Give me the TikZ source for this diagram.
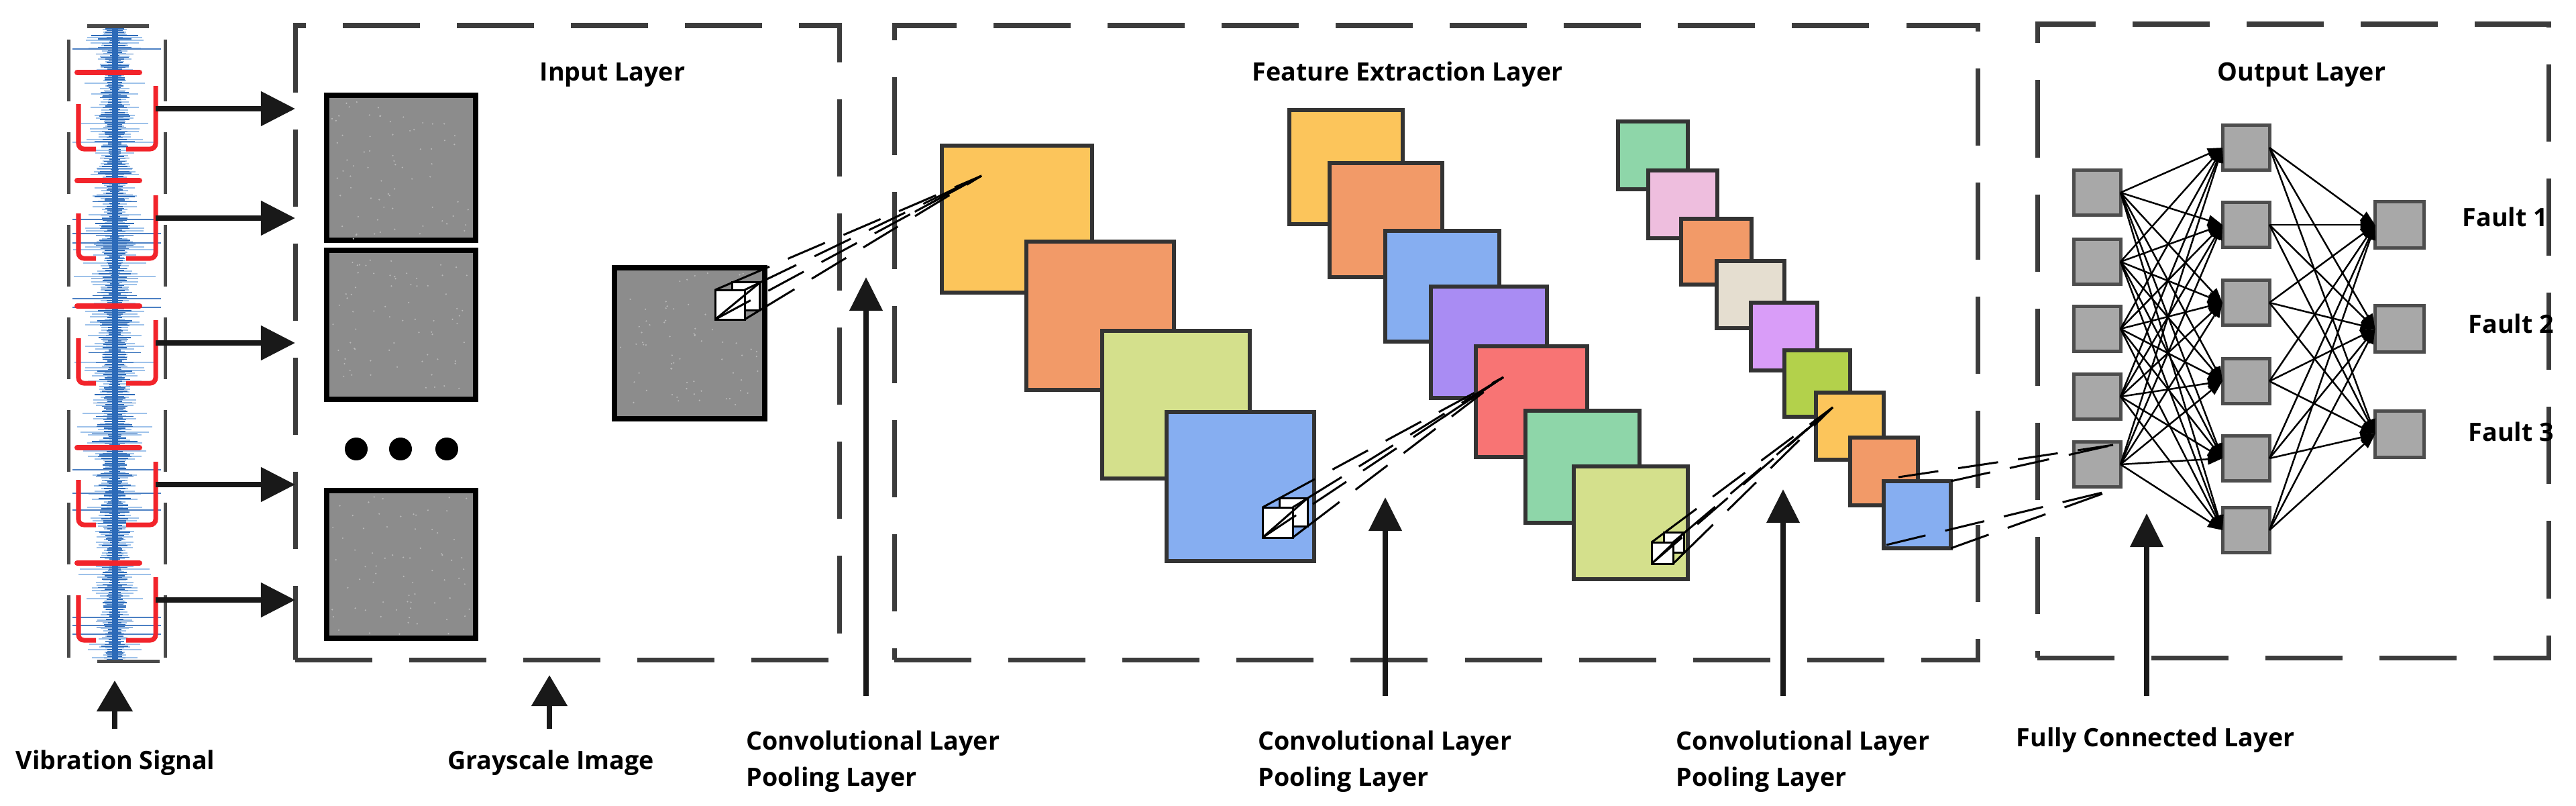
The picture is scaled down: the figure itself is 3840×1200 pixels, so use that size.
\documentclass[tikz,border=0pt]{standalone}
\usepackage{fontspec}
\setmainfont{Open Sans}
\usetikzlibrary{arrows.meta,calc,fit}
\definecolor{boxgray}{HTML}{3C3C3C}
\definecolor{sqborder}{HTML}{333333}
\definecolor{sqYellow}{HTML}{FCC55B}
\definecolor{sqOrange}{HTML}{F29A68}
\definecolor{sqLime}{HTML}{D4E08C}
\definecolor{sqBlue}{HTML}{86AEF1}
\definecolor{sqPurple}{HTML}{A98CF3}
\definecolor{sqRed}{HTML}{F87474}
\definecolor{sqGreen}{HTML}{8ED6A9}
\definecolor{sqPink}{HTML}{EEBEDE}
\definecolor{sqBeige}{HTML}{E5DED0}
\definecolor{sqViolet}{HTML}{D99DF8}
\definecolor{sqOlive}{HTML}{B3D14B}
\definecolor{imggray}{HTML}{8C8C8C}
\definecolor{nngray}{HTML}{A8A8A8}
\definecolor{nnborder}{HTML}{4D4D4D}
\definecolor{sigdark}{HTML}{2C6AB8}
\definecolor{siglight}{HTML}{9EC2EA}
\definecolor{sigred}{HTML}{F2242B}
\definecolor{siggray}{HTML}{4A4A4A}
\newcommand\sqn[4]{\node[sqbox,fill=#2,fit={#3 #4}] (#1) {};}
\newcommand\cubepyr[5]{% x, y (front top-left), size, apex, depth fraction
  \coordinate (p1) at (#1,#2);
  \coordinate (p2) at ({#1+#3},#2);
  \coordinate (p3) at ({#1+#3},{#2+#3});
  \coordinate (p4) at (#1,{#2+#3});
  \coordinate (q1) at ($(p1)!#5!(#4)$);
  \coordinate (q2) at ($(p2)!#5!(#4)$);
  \coordinate (q3) at ($(p3)!#5!(#4)$);
  \coordinate (q4) at ($(p4)!#5!(#4)$);
  \filldraw[cubeline,fill=white] (q1)--(q2)--(q3)--(q4)--cycle;
  \filldraw[cubeline,fill=white] (p1)--(p2)--(p3)--(p4)--cycle;
  \draw[cubeline] (p1)--(q1) (p2)--(q2) (p3)--(q3);
  \draw[pyrline] (q1)--(#4);
  \draw[pyrline] (q2)--(#4);
  \draw[pyrline] (q3)--(#4);
  \draw[pyrline] (p4)--(#4);
  \draw[cubeline] ($(p4)!0.75!(#4)$)--(#4);
  \draw[cubeline] (p4)--(q2);
}
\begin{document}
\begin{tikzpicture}[x=0.01cm,y=-0.01cm,
  lbl/.style={font=\fontsize{10.7pt}{13pt}\selectfont\bfseries, text=black, inner sep=0},
  dbox/.style={draw=boxgray, line width=0.07cm, dash pattern=on 1.15cm off 0.55cm, inner sep=0, outer sep=0},
  sqbox/.style={draw=sqborder, line width=0.06cm, inner sep=0, outer sep=0},
  imgbox/.style={draw=black, fill=imggray, line width=0.08cm, inner sep=0, outer sep=0},
  nn/.style={draw=nnborder, fill=nngray, line width=0.05cm, minimum width=0.7cm, minimum height=0.66cm, inner sep=0, outer sep=0},
  nnedge/.style={draw=black, line width=0.025cm, -{Triangle[length=0.22cm,width=0.16cm]}},
  harr/.style={draw=black!90, line width=0.08cm, -{Triangle[length=0.51cm,width=0.5cm]}},
  uarr/.style={draw=black!90, line width=0.075cm, -{Triangle[length=0.5cm,width=0.48cm]}},
  sarr/.style={draw=black!90, line width=0.08cm, -{Triangle[length=0.46cm,width=0.52cm]}},
  cubeline/.style={draw=black, line width=0.03cm},
  pyrline/.style={draw=black, line width=0.03cm, dash pattern=on 0.6cm off 0.3cm},
  sigdash/.style={draw=siggray, line width=0.05cm, dash pattern=on 0.92cm off 0.46cm},
  redl/.style={draw=sigred, line width=0.07cm, rounded corners=0.08cm}
]
\useasboundingbox[fill=white] (0,0) rectangle (3840,1200);

% ---------------- vibration signal strip ----------------
\pgfmathsetseed{42}
\foreach \yy in {44,48,...,983}{
  \pgfmathsetmacro\w{14+50*rnd*rnd}
  \draw[siglight, line width=0.025cm] ({171-\w},\yy) -- ({171+\w},\yy);
}
\foreach \yy in {43,45.5,...,984}{
  \pgfmathsetmacro\w{6+22*rnd*rnd+26*rnd*rnd*rnd}
  \draw[sigdark, line width=0.016cm] ({171-\w},\yy) -- ({171+\w},\yy);
}
\foreach \yy in {73,327,348,362,445,458,700,735,760,920,932,945}{
  \draw[sigdark!85, line width=0.012cm] (108,\yy) -- (240,\yy);
}
\draw[sigdark, line width=0.09cm] (171,40) -- (171,985);
% red frames
\foreach \b in {222,385,571,782,954}{
  \draw[redl] (117,{\b-67}) -- (117,\b) -- (143,\b);
  \draw[redl] (188,\b) -- (232,\b) -- (232,{\b-94});
}
\foreach \yy in {108,269,456,667,839}{
  \draw[sigred, line width=0.08cm, line cap=round] (115,\yy) -- (208,\yy);
}
% gray dashed frame
\draw[sigdash] (102,59) -- (102,985);
\draw[sigdash] (246,59) -- (246,985);
\draw[siggray, line width=0.05cm] (130,39) -- (222,39);
\draw[siggray, line width=0.05cm] (145,985) -- (238,985);

% ---------------- dashed layer boxes ----------------
\node[dbox, fit={(440,38) (1251,983)}] (inbox) {};
\node[dbox, fit={(1333,38) (2948,983)}] (febox) {};
\node[dbox, fit={(3037,36) (3799,980)}] (outbox) {};

% ---------------- grayscale images ----------------
\node[imgbox, fit={(487,142) (709,358)}] (g1) {};
\node[imgbox, fit={(487,373) (709,595)}] (g2) {};
\node[imgbox, fit={(487,731) (709,951)}] (g3) {};
\node[imgbox, fit={(916,399) (1140,624)}] (g4) {};
\pgfmathsetseed{7}
\foreach \xa/\ya in {487/142,487/373,487/731,916/399}{
  \foreach \k in {1,...,70}{
    \fill[gray!55] ({\xa+8+rnd*206},{\ya+8+rnd*206}) circle (0.012cm);
  }
}
\foreach \xx in {531,597,666}{
  \fill[black] (\xx,669) circle (0.17cm);
}

% arrows signal -> input box
\foreach \b [count=\i] in {222,385,571,782,954}{
  \coordinate (s\i) at (232,{\b-60});
  \coordinate (t\i) at (440,{\b-60});
  \draw[harr] (s\i) -- (t\i);
}

% ---------------- feature maps ----------------
\sqn{ya}{sqYellow}{(1404,217)}{(1628,436)}
\sqn{oa}{sqOrange}{(1530,360)}{(1750,581)}
\sqn{la}{sqLime}{(1643,493)}{(1863,713)}
\sqn{ba}{sqBlue}{(1739,614)}{(1959,836)}

\sqn{yb}{sqYellow}{(1922,164)}{(2091,334)}
\sqn{ob}{sqOrange}{(1982,243)}{(2150,413)}
\sqn{bb}{sqBlue}{(2065,344)}{(2235,509)}
\sqn{pb}{sqPurple}{(2133,427)}{(2306,593)}
\sqn{rb}{sqRed}{(2200,516)}{(2366,681)}
\sqn{gb}{sqGreen}{(2274,612)}{(2444,779)}
\sqn{lb}{sqLime}{(2346,695)}{(2516,863)}

\sqn{c1}{sqGreen}{(2412,181)}{(2516,282)}
\sqn{c2}{sqPink}{(2457,254)}{(2560,355)}
\sqn{c3}{sqOrange}{(2506,326)}{(2611,424)}
\sqn{c4}{sqBeige}{(2559,389)}{(2660,489)}
\sqn{c5}{sqViolet}{(2610,451)}{(2709,552)}
\sqn{c6}{sqOlive}{(2660,522)}{(2758,621)}
\sqn{c7}{sqYellow}{(2707,585)}{(2808,685)}
\sqn{c8}{sqOrange}{(2758,652)}{(2859,753)}
\sqn{c9}{sqBlue}{(2808,717)}{(2908,817)}

% receptive-field pyramids
\coordinate (apx1) at (1463,262);
\coordinate (apx2) at (2241,562);
\coordinate (apx3) at (2732,607);
\cubepyr{1066}{432}{44}{apx1}{0.065}
\cubepyr{1882}{756}{45}{apx2}{0.07}
\cubepyr{2462}{808}{32}{apx3}{0.07}

% ---------------- fully connected network ----------------
\foreach \yy [count=\i] in {287,390,490,591,692}{
  \node[nn] (a\i) at (3126,\yy) {};
}
\foreach \yy [count=\i] in {220,335,451,568,683,790}{
  \node[nn] (b\i) at (3348,\yy) {};
}
\foreach \yy [count=\i] in {335,490,647}{
  \node[nn, minimum width=0.73cm, minimum height=0.68cm] (o\i) at (3577,\yy) {};
}
\foreach \i in {1,...,5}{
  \foreach \j in {1,...,6}{
    \draw[nnedge] (a\i.east) -- (b\j.west);
  }
}
\foreach \i in {1,...,6}{
  \foreach \j in {1,...,3}{
    \draw[nnedge] (b\i.east) -- (o\j.west);
  }
}
% last feature map -> first FC layer
\coordinate (fa) at (2830,711);
\coordinate (fd) at (2812,812);
\coordinate (na) at (3150,663);
\coordinate (nb) at (3150,730);
\draw[pyrline] (fa) -- (na);
\draw[pyrline] (c9.north east) -- (na);
\draw[pyrline] (c9.south east) -- (nb);
\draw[pyrline] (fd) -- (nb);

% ---------------- labels ----------------
\node[lbl, anchor=base] (tin) at (913,120) {Input Layer};
\node[lbl, anchor=base] (tfe) at (2098,120) {Feature Extraction Layer};
\node[lbl, anchor=base] (tout) at (3431,120) {Output Layer};
\node[lbl, anchor=base west] (f1) at (3670,337) {Fault 1};
\node[lbl, anchor=base west] (f2) at (3679,496) {Fault 2};
\node[lbl, anchor=base west] (f3) at (3679,657) {Fault 3};

\node[lbl, anchor=base] (tvib) at (172,1146) {Vibration Signal};
\node[lbl, anchor=base] (tgray) at (821,1146) {Grayscale Image};
\node[lbl, anchor=base west] (tc1a) at (1112,1117) {Convolutional Layer};
\node[lbl, anchor=base west] (tc1b) at (1112,1171) {Pooling Layer};
\node[lbl, anchor=base west] (tc2a) at (1875,1117) {Convolutional Layer};
\node[lbl, anchor=base west] (tc2b) at (1875,1171) {Pooling Layer};
\node[lbl, anchor=base west] (tc3a) at (2498,1117) {Convolutional Layer};
\node[lbl, anchor=base west] (tc3b) at (2498,1171) {Pooling Layer};
\node[lbl, anchor=base west] (tfc) at (3005,1112) {Fully Connected Layer};

% ---------------- pointer arrows ----------------
\coordinate (u1s) at (171,1086);  \coordinate (u1e) at (171,1014);
\coordinate (u2s) at (819,1086);  \coordinate (u2e) at (819,1006);
\coordinate (u3s) at (1291,1037); \coordinate (u3e) at (1291,413);
\coordinate (u4s) at (2065,1037); \coordinate (u4e) at (2065,741);
\coordinate (u5s) at (2658,1037); \coordinate (u5e) at (2658,729);
\coordinate (u6s) at (3200,1037); \coordinate (u6e) at (3200,765);
\draw[sarr] (u1s) -- (u1e);
\draw[sarr] (u2s) -- (u2e);
\draw[uarr] (u3s) -- (u3e);
\draw[uarr] (u4s) -- (u4e);
\draw[uarr] (u5s) -- (u5e);
\draw[uarr] (u6s) -- (u6e);
\end{tikzpicture}
\end{document}
